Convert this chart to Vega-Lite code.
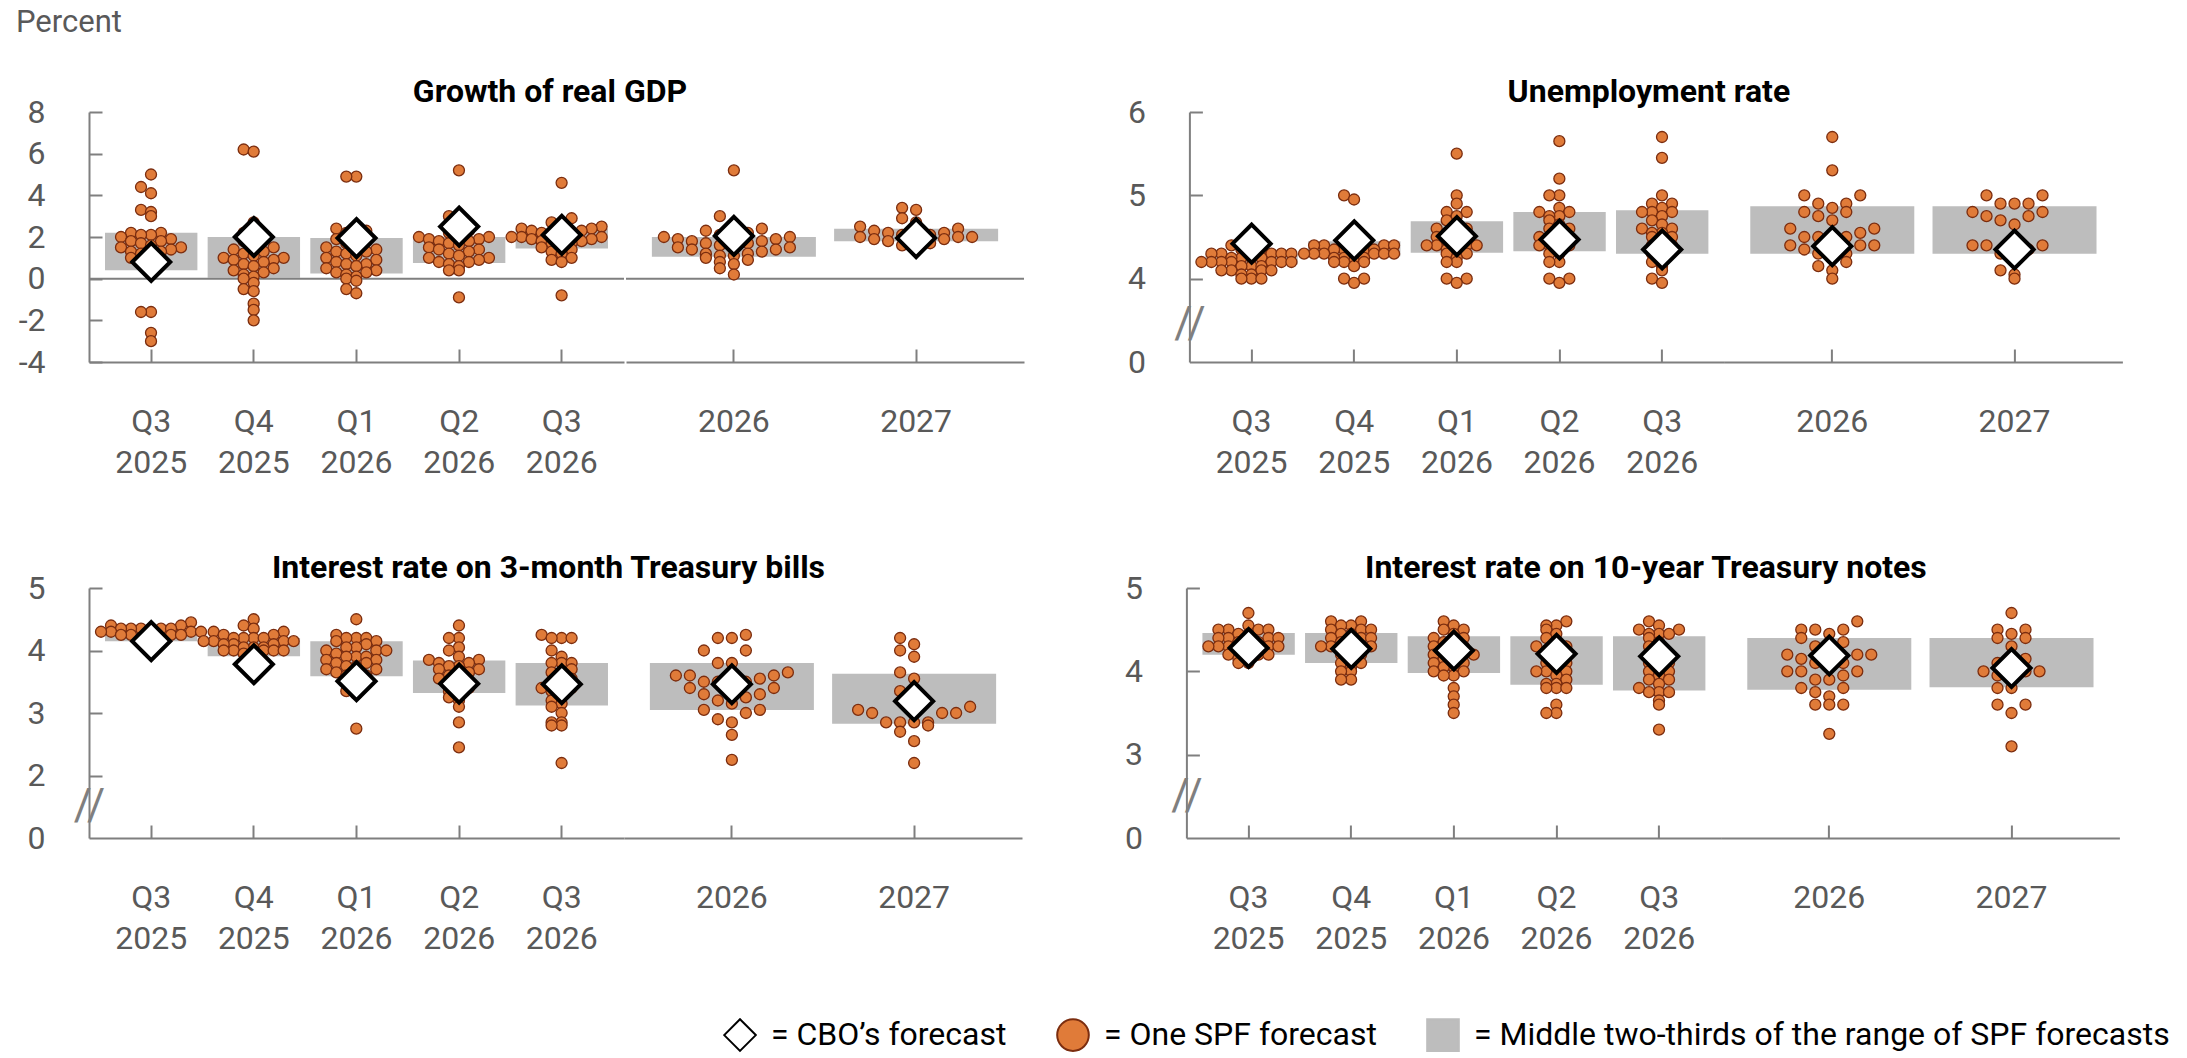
{
"$schema": "https://vega.github.io/schema/vega-lite/v6.json",
"padding": {"left": 9, "top": 7, "right": 5, "bottom": 5},
"title": {"text": "Percent", "anchor": "start", "fontSize": 31, "fontWeight": "normal", "color": "#595959", "offset": 37, "dx": 7},
"datasets": {
"s": [
{"k":"gdp","p":"Q3 2025","lo":0.4,"hi":2.2,"cbo":0.8},
{"k":"gdp","p":"Q4 2025","lo":0.05,"hi":2.0,"cbo":2.0},
{"k":"gdp","p":"Q1 2026","lo":0.25,"hi":1.95,"cbo":1.95},
{"k":"gdp","p":"Q2 2026","lo":0.75,"hi":2.0,"cbo":2.5},
{"k":"gdp","p":"Q3 2026","lo":1.45,"hi":2.4,"cbo":2.1},
{"k":"gdp","p":"2026","lo":1.05,"hi":2.0,"cbo":2.05},
{"k":"gdp","p":"2027","lo":1.8,"hi":2.4,"cbo":1.95},
{"k":"ur","p":"Q3 2025","lo":4.17,"hi":4.29,"cbo":4.42},
{"k":"ur","p":"Q4 2025","lo":4.27,"hi":4.45,"cbo":4.46},
{"k":"ur","p":"Q1 2026","lo":4.31,"hi":4.69,"cbo":4.51},
{"k":"ur","p":"Q2 2026","lo":4.33,"hi":4.8,"cbo":4.47},
{"k":"ur","p":"Q3 2026","lo":4.3,"hi":4.82,"cbo":4.35},
{"k":"ur","p":"2026","lo":4.3,"hi":4.87,"cbo":4.39},
{"k":"ur","p":"2027","lo":4.3,"hi":4.87,"cbo":4.35},
{"k":"tb","p":"Q3 2025","lo":4.15,"hi":4.33,"cbo":4.15},
{"k":"tb","p":"Q4 2025","lo":3.91,"hi":4.2,"cbo":3.78},
{"k":"tb","p":"Q1 2026","lo":3.59,"hi":4.15,"cbo":3.51},
{"k":"tb","p":"Q2 2026","lo":3.32,"hi":3.84,"cbo":3.47},
{"k":"tb","p":"Q3 2026","lo":3.12,"hi":3.8,"cbo":3.46},
{"k":"tb","p":"2026","lo":3.05,"hi":3.8,"cbo":3.46},
{"k":"tb","p":"2027","lo":2.83,"hi":3.63,"cbo":3.19},
{"k":"tn","p":"Q3 2025","lo":4.2,"hi":4.46,"cbo":4.28},
{"k":"tn","p":"Q4 2025","lo":4.1,"hi":4.46,"cbo":4.27},
{"k":"tn","p":"Q1 2026","lo":3.98,"hi":4.42,"cbo":4.25},
{"k":"tn","p":"Q2 2026","lo":3.84,"hi":4.42,"cbo":4.21},
{"k":"tn","p":"Q3 2026","lo":3.77,"hi":4.42,"cbo":4.18},
{"k":"tn","p":"2026","lo":3.78,"hi":4.4,"cbo":4.19},
{"k":"tn","p":"2027","lo":3.81,"hi":4.4,"cbo":4.04}
],
"gdp": [
{"p":"Q3 2025","v":5.0},{"p":"Q3 2025","v":4.4},{"p":"Q3 2025","v":4.1},{"p":"Q3 2025","v":3.3},{"p":"Q3 2025","v":3.2},{"p":"Q3 2025","v":3.0},{"p":"Q3 2025","v":2.2},{"p":"Q3 2025","v":2.2},{"p":"Q3 2025","v":2.1},{"p":"Q3 2025","v":2.1},{"p":"Q3 2025","v":2.0},{"p":"Q3 2025","v":1.9},{"p":"Q3 2025","v":1.8},{"p":"Q3 2025","v":1.8},{"p":"Q3 2025","v":1.7},{"p":"Q3 2025","v":1.6},{"p":"Q3 2025","v":1.5},{"p":"Q3 2025","v":1.5},{"p":"Q3 2025","v":1.4},{"p":"Q3 2025","v":1.3},{"p":"Q3 2025","v":1.3},{"p":"Q3 2025","v":1.2},{"p":"Q3 2025","v":1.1},{"p":"Q3 2025","v":1.0},{"p":"Q3 2025","v":0.9},{"p":"Q3 2025","v":0.8},{"p":"Q3 2025","v":0.6},{"p":"Q3 2025","v":0.3},{"p":"Q3 2025","v":-1.6},{"p":"Q3 2025","v":-1.6},{"p":"Q3 2025","v":-2.6},{"p":"Q3 2025","v":-3.0},
{"p":"Q4 2025","v":6.2},{"p":"Q4 2025","v":6.1},{"p":"Q4 2025","v":2.7},{"p":"Q4 2025","v":2.2},{"p":"Q4 2025","v":2.2},{"p":"Q4 2025","v":2.0},{"p":"Q4 2025","v":1.8},{"p":"Q4 2025","v":1.6},{"p":"Q4 2025","v":1.5},{"p":"Q4 2025","v":1.4},{"p":"Q4 2025","v":1.3},{"p":"Q4 2025","v":1.2},{"p":"Q4 2025","v":1.1},{"p":"Q4 2025","v":1.0},{"p":"Q4 2025","v":1.0},{"p":"Q4 2025","v":0.9},{"p":"Q4 2025","v":0.9},{"p":"Q4 2025","v":0.8},{"p":"Q4 2025","v":0.7},{"p":"Q4 2025","v":0.6},{"p":"Q4 2025","v":0.5},{"p":"Q4 2025","v":0.4},{"p":"Q4 2025","v":0.3},{"p":"Q4 2025","v":0.2},{"p":"Q4 2025","v":0.1},{"p":"Q4 2025","v":0.0},{"p":"Q4 2025","v":-0.2},{"p":"Q4 2025","v":-0.5},{"p":"Q4 2025","v":-0.6},{"p":"Q4 2025","v":-1.2},{"p":"Q4 2025","v":-1.5},{"p":"Q4 2025","v":-2.0},
{"p":"Q1 2026","v":4.9},{"p":"Q1 2026","v":4.9},{"p":"Q1 2026","v":2.4},{"p":"Q1 2026","v":2.3},{"p":"Q1 2026","v":2.2},{"p":"Q1 2026","v":2.1},{"p":"Q1 2026","v":1.9},{"p":"Q1 2026","v":1.8},{"p":"Q1 2026","v":1.7},{"p":"Q1 2026","v":1.6},{"p":"Q1 2026","v":1.5},{"p":"Q1 2026","v":1.4},{"p":"Q1 2026","v":1.3},{"p":"Q1 2026","v":1.3},{"p":"Q1 2026","v":1.2},{"p":"Q1 2026","v":1.1},{"p":"Q1 2026","v":1.0},{"p":"Q1 2026","v":0.9},{"p":"Q1 2026","v":0.8},{"p":"Q1 2026","v":0.7},{"p":"Q1 2026","v":0.7},{"p":"Q1 2026","v":0.6},{"p":"Q1 2026","v":0.5},{"p":"Q1 2026","v":0.4},{"p":"Q1 2026","v":0.3},{"p":"Q1 2026","v":0.3},{"p":"Q1 2026","v":0.2},{"p":"Q1 2026","v":0.1},{"p":"Q1 2026","v":0.0},{"p":"Q1 2026","v":-0.1},{"p":"Q1 2026","v":-0.5},{"p":"Q1 2026","v":-0.7},
{"p":"Q2 2026","v":5.2},{"p":"Q2 2026","v":3.0},{"p":"Q2 2026","v":2.8},{"p":"Q2 2026","v":2.3},{"p":"Q2 2026","v":2.2},{"p":"Q2 2026","v":2.1},{"p":"Q2 2026","v":2.0},{"p":"Q2 2026","v":2.0},{"p":"Q2 2026","v":1.9},{"p":"Q2 2026","v":1.9},{"p":"Q2 2026","v":1.8},{"p":"Q2 2026","v":1.8},{"p":"Q2 2026","v":1.7},{"p":"Q2 2026","v":1.6},{"p":"Q2 2026","v":1.5},{"p":"Q2 2026","v":1.4},{"p":"Q2 2026","v":1.4},{"p":"Q2 2026","v":1.3},{"p":"Q2 2026","v":1.2},{"p":"Q2 2026","v":1.1},{"p":"Q2 2026","v":1.0},{"p":"Q2 2026","v":1.0},{"p":"Q2 2026","v":0.9},{"p":"Q2 2026","v":0.8},{"p":"Q2 2026","v":0.8},{"p":"Q2 2026","v":0.7},{"p":"Q2 2026","v":0.6},{"p":"Q2 2026","v":0.4},{"p":"Q2 2026","v":0.4},{"p":"Q2 2026","v":-0.9},
{"p":"Q3 2026","v":4.6},{"p":"Q3 2026","v":2.9},{"p":"Q3 2026","v":2.7},{"p":"Q3 2026","v":2.6},{"p":"Q3 2026","v":2.5},{"p":"Q3 2026","v":2.4},{"p":"Q3 2026","v":2.4},{"p":"Q3 2026","v":2.3},{"p":"Q3 2026","v":2.3},{"p":"Q3 2026","v":2.2},{"p":"Q3 2026","v":2.2},{"p":"Q3 2026","v":2.1},{"p":"Q3 2026","v":2.1},{"p":"Q3 2026","v":2.0},{"p":"Q3 2026","v":2.0},{"p":"Q3 2026","v":2.0},{"p":"Q3 2026","v":1.9},{"p":"Q3 2026","v":1.9},{"p":"Q3 2026","v":1.8},{"p":"Q3 2026","v":1.8},{"p":"Q3 2026","v":1.7},{"p":"Q3 2026","v":1.7},{"p":"Q3 2026","v":1.6},{"p":"Q3 2026","v":1.5},{"p":"Q3 2026","v":1.4},{"p":"Q3 2026","v":1.3},{"p":"Q3 2026","v":1.2},{"p":"Q3 2026","v":1.0},{"p":"Q3 2026","v":0.9},{"p":"Q3 2026","v":0.8},{"p":"Q3 2026","v":-0.8},
{"p":"2026","v":5.2},{"p":"2026","v":3.0},{"p":"2026","v":2.6},{"p":"2026","v":2.4},{"p":"2026","v":2.3},{"p":"2026","v":2.2},{"p":"2026","v":2.1},{"p":"2026","v":2.1},{"p":"2026","v":2.0},{"p":"2026","v":2.0},{"p":"2026","v":1.9},{"p":"2026","v":1.9},{"p":"2026","v":1.8},{"p":"2026","v":1.8},{"p":"2026","v":1.7},{"p":"2026","v":1.7},{"p":"2026","v":1.6},{"p":"2026","v":1.6},{"p":"2026","v":1.5},{"p":"2026","v":1.5},{"p":"2026","v":1.4},{"p":"2026","v":1.4},{"p":"2026","v":1.3},{"p":"2026","v":1.2},{"p":"2026","v":1.2},{"p":"2026","v":1.1},{"p":"2026","v":1.1},{"p":"2026","v":1.0},{"p":"2026","v":0.9},{"p":"2026","v":0.8},{"p":"2026","v":0.7},{"p":"2026","v":0.5},{"p":"2026","v":0.2},
{"p":"2027","v":3.4},{"p":"2027","v":3.3},{"p":"2027","v":2.9},{"p":"2027","v":2.7},{"p":"2027","v":2.5},{"p":"2027","v":2.4},{"p":"2027","v":2.3},{"p":"2027","v":2.2},{"p":"2027","v":2.2},{"p":"2027","v":2.1},{"p":"2027","v":2.1},{"p":"2027","v":2.1},{"p":"2027","v":2.0},{"p":"2027","v":2.0},{"p":"2027","v":2.0},{"p":"2027","v":1.9},{"p":"2027","v":1.9},{"p":"2027","v":1.8},{"p":"2027","v":1.7},{"p":"2027","v":1.6},{"p":"2027","v":1.6},{"p":"2027","v":1.5}
],
"ur": [
{"p":"Q3 2025","v":4.4},{"p":"Q3 2025","v":4.35},{"p":"Q3 2025","v":4.35},{"p":"Q3 2025","v":4.35},{"p":"Q3 2025","v":4.3},{"p":"Q3 2025","v":4.3},{"p":"Q3 2025","v":4.3},{"p":"Q3 2025","v":4.3},{"p":"Q3 2025","v":4.3},{"p":"Q3 2025","v":4.25},{"p":"Q3 2025","v":4.25},{"p":"Q3 2025","v":4.25},{"p":"Q3 2025","v":4.25},{"p":"Q3 2025","v":4.2},{"p":"Q3 2025","v":4.2},{"p":"Q3 2025","v":4.2},{"p":"Q3 2025","v":4.2},{"p":"Q3 2025","v":4.2},{"p":"Q3 2025","v":4.2},{"p":"Q3 2025","v":4.2},{"p":"Q3 2025","v":4.15},{"p":"Q3 2025","v":4.15},{"p":"Q3 2025","v":4.15},{"p":"Q3 2025","v":4.1},{"p":"Q3 2025","v":4.1},{"p":"Q3 2025","v":4.1},{"p":"Q3 2025","v":4.1},{"p":"Q3 2025","v":4.05},{"p":"Q3 2025","v":4.05},{"p":"Q3 2025","v":4.0},{"p":"Q3 2025","v":4.0},{"p":"Q3 2025","v":4.0},
{"p":"Q4 2025","v":5.0},{"p":"Q4 2025","v":4.95},{"p":"Q4 2025","v":4.45},{"p":"Q4 2025","v":4.45},{"p":"Q4 2025","v":4.4},{"p":"Q4 2025","v":4.4},{"p":"Q4 2025","v":4.4},{"p":"Q4 2025","v":4.4},{"p":"Q4 2025","v":4.35},{"p":"Q4 2025","v":4.35},{"p":"Q4 2025","v":4.35},{"p":"Q4 2025","v":4.35},{"p":"Q4 2025","v":4.35},{"p":"Q4 2025","v":4.3},{"p":"Q4 2025","v":4.3},{"p":"Q4 2025","v":4.3},{"p":"Q4 2025","v":4.3},{"p":"Q4 2025","v":4.3},{"p":"Q4 2025","v":4.3},{"p":"Q4 2025","v":4.25},{"p":"Q4 2025","v":4.25},{"p":"Q4 2025","v":4.25},{"p":"Q4 2025","v":4.25},{"p":"Q4 2025","v":4.2},{"p":"Q4 2025","v":4.2},{"p":"Q4 2025","v":4.2},{"p":"Q4 2025","v":4.15},{"p":"Q4 2025","v":4.0},{"p":"Q4 2025","v":4.0},{"p":"Q4 2025","v":3.95},
{"p":"Q1 2026","v":5.5},{"p":"Q1 2026","v":5.0},{"p":"Q1 2026","v":4.9},{"p":"Q1 2026","v":4.8},{"p":"Q1 2026","v":4.8},{"p":"Q1 2026","v":4.75},{"p":"Q1 2026","v":4.7},{"p":"Q1 2026","v":4.65},{"p":"Q1 2026","v":4.6},{"p":"Q1 2026","v":4.6},{"p":"Q1 2026","v":4.55},{"p":"Q1 2026","v":4.55},{"p":"Q1 2026","v":4.5},{"p":"Q1 2026","v":4.5},{"p":"Q1 2026","v":4.45},{"p":"Q1 2026","v":4.45},{"p":"Q1 2026","v":4.4},{"p":"Q1 2026","v":4.4},{"p":"Q1 2026","v":4.4},{"p":"Q1 2026","v":4.4},{"p":"Q1 2026","v":4.35},{"p":"Q1 2026","v":4.35},{"p":"Q1 2026","v":4.3},{"p":"Q1 2026","v":4.3},{"p":"Q1 2026","v":4.25},{"p":"Q1 2026","v":4.2},{"p":"Q1 2026","v":4.2},{"p":"Q1 2026","v":4.0},{"p":"Q1 2026","v":4.0},{"p":"Q1 2026","v":3.95},
{"p":"Q2 2026","v":5.65},{"p":"Q2 2026","v":5.2},{"p":"Q2 2026","v":5.0},{"p":"Q2 2026","v":5.0},{"p":"Q2 2026","v":4.85},{"p":"Q2 2026","v":4.8},{"p":"Q2 2026","v":4.8},{"p":"Q2 2026","v":4.75},{"p":"Q2 2026","v":4.75},{"p":"Q2 2026","v":4.7},{"p":"Q2 2026","v":4.65},{"p":"Q2 2026","v":4.6},{"p":"Q2 2026","v":4.6},{"p":"Q2 2026","v":4.55},{"p":"Q2 2026","v":4.5},{"p":"Q2 2026","v":4.5},{"p":"Q2 2026","v":4.45},{"p":"Q2 2026","v":4.45},{"p":"Q2 2026","v":4.4},{"p":"Q2 2026","v":4.4},{"p":"Q2 2026","v":4.4},{"p":"Q2 2026","v":4.35},{"p":"Q2 2026","v":4.3},{"p":"Q2 2026","v":4.3},{"p":"Q2 2026","v":4.2},{"p":"Q2 2026","v":4.2},{"p":"Q2 2026","v":4.0},{"p":"Q2 2026","v":4.0},{"p":"Q2 2026","v":3.95},
{"p":"Q3 2026","v":5.7},{"p":"Q3 2026","v":5.45},{"p":"Q3 2026","v":5.0},{"p":"Q3 2026","v":4.9},{"p":"Q3 2026","v":4.9},{"p":"Q3 2026","v":4.85},{"p":"Q3 2026","v":4.8},{"p":"Q3 2026","v":4.8},{"p":"Q3 2026","v":4.8},{"p":"Q3 2026","v":4.75},{"p":"Q3 2026","v":4.7},{"p":"Q3 2026","v":4.65},{"p":"Q3 2026","v":4.6},{"p":"Q3 2026","v":4.6},{"p":"Q3 2026","v":4.55},{"p":"Q3 2026","v":4.55},{"p":"Q3 2026","v":4.5},{"p":"Q3 2026","v":4.5},{"p":"Q3 2026","v":4.45},{"p":"Q3 2026","v":4.4},{"p":"Q3 2026","v":4.4},{"p":"Q3 2026","v":4.35},{"p":"Q3 2026","v":4.3},{"p":"Q3 2026","v":4.25},{"p":"Q3 2026","v":4.2},{"p":"Q3 2026","v":4.15},{"p":"Q3 2026","v":4.1},{"p":"Q3 2026","v":4.0},{"p":"Q3 2026","v":3.95},
{"p":"2026","v":5.7},{"p":"2026","v":5.3},{"p":"2026","v":5.0},{"p":"2026","v":5.0},{"p":"2026","v":4.9},{"p":"2026","v":4.9},{"p":"2026","v":4.85},{"p":"2026","v":4.8},{"p":"2026","v":4.8},{"p":"2026","v":4.75},{"p":"2026","v":4.7},{"p":"2026","v":4.6},{"p":"2026","v":4.6},{"p":"2026","v":4.55},{"p":"2026","v":4.5},{"p":"2026","v":4.5},{"p":"2026","v":4.5},{"p":"2026","v":4.45},{"p":"2026","v":4.4},{"p":"2026","v":4.4},{"p":"2026","v":4.4},{"p":"2026","v":4.35},{"p":"2026","v":4.3},{"p":"2026","v":4.3},{"p":"2026","v":4.25},{"p":"2026","v":4.2},{"p":"2026","v":4.15},{"p":"2026","v":4.1},{"p":"2026","v":4.0},
{"p":"2027","v":5.0},{"p":"2027","v":5.0},{"p":"2027","v":4.9},{"p":"2027","v":4.9},{"p":"2027","v":4.9},{"p":"2027","v":4.8},{"p":"2027","v":4.8},{"p":"2027","v":4.75},{"p":"2027","v":4.75},{"p":"2027","v":4.7},{"p":"2027","v":4.65},{"p":"2027","v":4.5},{"p":"2027","v":4.4},{"p":"2027","v":4.4},{"p":"2027","v":4.4},{"p":"2027","v":4.35},{"p":"2027","v":4.3},{"p":"2027","v":4.3},{"p":"2027","v":4.1},{"p":"2027","v":4.05},{"p":"2027","v":4.0}
],
"tb": [
{"p":"Q3 2025","v":4.45},{"p":"Q3 2025","v":4.4},{"p":"Q3 2025","v":4.4},{"p":"Q3 2025","v":4.35},{"p":"Q3 2025","v":4.35},{"p":"Q3 2025","v":4.35},{"p":"Q3 2025","v":4.35},{"p":"Q3 2025","v":4.35},{"p":"Q3 2025","v":4.35},{"p":"Q3 2025","v":4.3},{"p":"Q3 2025","v":4.3},{"p":"Q3 2025","v":4.3},{"p":"Q3 2025","v":4.3},{"p":"Q3 2025","v":4.25},{"p":"Q3 2025","v":4.25},{"p":"Q3 2025","v":4.25},{"p":"Q3 2025","v":4.25},{"p":"Q3 2025","v":4.2},{"p":"Q3 2025","v":4.2},{"p":"Q3 2025","v":4.2},
{"p":"Q4 2025","v":4.5},{"p":"Q4 2025","v":4.4},{"p":"Q4 2025","v":4.35},{"p":"Q4 2025","v":4.3},{"p":"Q4 2025","v":4.3},{"p":"Q4 2025","v":4.25},{"p":"Q4 2025","v":4.25},{"p":"Q4 2025","v":4.2},{"p":"Q4 2025","v":4.2},{"p":"Q4 2025","v":4.2},{"p":"Q4 2025","v":4.2},{"p":"Q4 2025","v":4.15},{"p":"Q4 2025","v":4.15},{"p":"Q4 2025","v":4.15},{"p":"Q4 2025","v":4.15},{"p":"Q4 2025","v":4.1},{"p":"Q4 2025","v":4.1},{"p":"Q4 2025","v":4.1},{"p":"Q4 2025","v":4.05},{"p":"Q4 2025","v":4.05},{"p":"Q4 2025","v":4.05},{"p":"Q4 2025","v":4.0},{"p":"Q4 2025","v":4.0},{"p":"Q4 2025","v":4.0},{"p":"Q4 2025","v":4.0},{"p":"Q4 2025","v":4.0},{"p":"Q4 2025","v":3.95},{"p":"Q4 2025","v":3.9},
{"p":"Q1 2026","v":4.5},{"p":"Q1 2026","v":4.25},{"p":"Q1 2026","v":4.2},{"p":"Q1 2026","v":4.2},{"p":"Q1 2026","v":4.2},{"p":"Q1 2026","v":4.15},{"p":"Q1 2026","v":4.15},{"p":"Q1 2026","v":4.1},{"p":"Q1 2026","v":4.05},{"p":"Q1 2026","v":4.05},{"p":"Q1 2026","v":4.0},{"p":"Q1 2026","v":4.0},{"p":"Q1 2026","v":4.0},{"p":"Q1 2026","v":3.95},{"p":"Q1 2026","v":3.9},{"p":"Q1 2026","v":3.9},{"p":"Q1 2026","v":3.9},{"p":"Q1 2026","v":3.85},{"p":"Q1 2026","v":3.85},{"p":"Q1 2026","v":3.8},{"p":"Q1 2026","v":3.8},{"p":"Q1 2026","v":3.75},{"p":"Q1 2026","v":3.75},{"p":"Q1 2026","v":3.7},{"p":"Q1 2026","v":3.7},{"p":"Q1 2026","v":3.65},{"p":"Q1 2026","v":3.6},{"p":"Q1 2026","v":3.6},{"p":"Q1 2026","v":3.6},{"p":"Q1 2026","v":3.55},{"p":"Q1 2026","v":3.5},{"p":"Q1 2026","v":3.45},{"p":"Q1 2026","v":3.35},{"p":"Q1 2026","v":3.3},{"p":"Q1 2026","v":2.75},
{"p":"Q2 2026","v":4.4},{"p":"Q2 2026","v":4.2},{"p":"Q2 2026","v":4.2},{"p":"Q2 2026","v":4.05},{"p":"Q2 2026","v":4.0},{"p":"Q2 2026","v":3.9},{"p":"Q2 2026","v":3.85},{"p":"Q2 2026","v":3.85},{"p":"Q2 2026","v":3.8},{"p":"Q2 2026","v":3.8},{"p":"Q2 2026","v":3.75},{"p":"Q2 2026","v":3.75},{"p":"Q2 2026","v":3.7},{"p":"Q2 2026","v":3.7},{"p":"Q2 2026","v":3.65},{"p":"Q2 2026","v":3.6},{"p":"Q2 2026","v":3.6},{"p":"Q2 2026","v":3.55},{"p":"Q2 2026","v":3.5},{"p":"Q2 2026","v":3.5},{"p":"Q2 2026","v":3.45},{"p":"Q2 2026","v":3.4},{"p":"Q2 2026","v":3.35},{"p":"Q2 2026","v":3.3},{"p":"Q2 2026","v":3.25},{"p":"Q2 2026","v":3.2},{"p":"Q2 2026","v":3.1},{"p":"Q2 2026","v":2.85},{"p":"Q2 2026","v":2.45},
{"p":"Q3 2026","v":4.25},{"p":"Q3 2026","v":4.2},{"p":"Q3 2026","v":4.2},{"p":"Q3 2026","v":4.2},{"p":"Q3 2026","v":4.0},{"p":"Q3 2026","v":3.9},{"p":"Q3 2026","v":3.8},{"p":"Q3 2026","v":3.8},{"p":"Q3 2026","v":3.8},{"p":"Q3 2026","v":3.7},{"p":"Q3 2026","v":3.65},{"p":"Q3 2026","v":3.6},{"p":"Q3 2026","v":3.55},{"p":"Q3 2026","v":3.5},{"p":"Q3 2026","v":3.45},{"p":"Q3 2026","v":3.4},{"p":"Q3 2026","v":3.4},{"p":"Q3 2026","v":3.35},{"p":"Q3 2026","v":3.3},{"p":"Q3 2026","v":3.2},{"p":"Q3 2026","v":3.15},{"p":"Q3 2026","v":3.1},{"p":"Q3 2026","v":3.0},{"p":"Q3 2026","v":2.85},{"p":"Q3 2026","v":2.85},{"p":"Q3 2026","v":2.8},{"p":"Q3 2026","v":2.8},{"p":"Q3 2026","v":2.2},
{"p":"2026","v":4.25},{"p":"2026","v":4.2},{"p":"2026","v":4.2},{"p":"2026","v":4.0},{"p":"2026","v":4.0},{"p":"2026","v":3.8},{"p":"2026","v":3.8},{"p":"2026","v":3.65},{"p":"2026","v":3.6},{"p":"2026","v":3.6},{"p":"2026","v":3.6},{"p":"2026","v":3.55},{"p":"2026","v":3.5},{"p":"2026","v":3.5},{"p":"2026","v":3.5},{"p":"2026","v":3.45},{"p":"2026","v":3.4},{"p":"2026","v":3.4},{"p":"2026","v":3.3},{"p":"2026","v":3.3},{"p":"2026","v":3.25},{"p":"2026","v":3.2},{"p":"2026","v":3.15},{"p":"2026","v":3.05},{"p":"2026","v":3.05},{"p":"2026","v":3.0},{"p":"2026","v":2.9},{"p":"2026","v":2.85},{"p":"2026","v":2.65},{"p":"2026","v":2.25},
{"p":"2027","v":4.2},{"p":"2027","v":4.1},{"p":"2027","v":4.0},{"p":"2027","v":3.9},{"p":"2027","v":3.65},{"p":"2027","v":3.55},{"p":"2027","v":3.35},{"p":"2027","v":3.2},{"p":"2027","v":3.1},{"p":"2027","v":3.05},{"p":"2027","v":3.0},{"p":"2027","v":3.0},{"p":"2027","v":3.0},{"p":"2027","v":2.85},{"p":"2027","v":2.85},{"p":"2027","v":2.85},{"p":"2027","v":2.85},{"p":"2027","v":2.8},{"p":"2027","v":2.7},{"p":"2027","v":2.55},{"p":"2027","v":2.2}
],
"tn": [
{"p":"Q3 2025","v":4.7},{"p":"Q3 2025","v":4.55},{"p":"Q3 2025","v":4.5},{"p":"Q3 2025","v":4.5},{"p":"Q3 2025","v":4.5},{"p":"Q3 2025","v":4.5},{"p":"Q3 2025","v":4.45},{"p":"Q3 2025","v":4.45},{"p":"Q3 2025","v":4.4},{"p":"Q3 2025","v":4.4},{"p":"Q3 2025","v":4.4},{"p":"Q3 2025","v":4.4},{"p":"Q3 2025","v":4.35},{"p":"Q3 2025","v":4.35},{"p":"Q3 2025","v":4.35},{"p":"Q3 2025","v":4.3},{"p":"Q3 2025","v":4.3},{"p":"Q3 2025","v":4.3},{"p":"Q3 2025","v":4.3},{"p":"Q3 2025","v":4.3},{"p":"Q3 2025","v":4.25},{"p":"Q3 2025","v":4.25},{"p":"Q3 2025","v":4.25},{"p":"Q3 2025","v":4.2},{"p":"Q3 2025","v":4.2},{"p":"Q3 2025","v":4.2},{"p":"Q3 2025","v":4.15},{"p":"Q3 2025","v":4.15},{"p":"Q3 2025","v":4.1},{"p":"Q3 2025","v":4.1},
{"p":"Q4 2025","v":4.6},{"p":"Q4 2025","v":4.6},{"p":"Q4 2025","v":4.55},{"p":"Q4 2025","v":4.55},{"p":"Q4 2025","v":4.5},{"p":"Q4 2025","v":4.5},{"p":"Q4 2025","v":4.5},{"p":"Q4 2025","v":4.45},{"p":"Q4 2025","v":4.45},{"p":"Q4 2025","v":4.4},{"p":"Q4 2025","v":4.4},{"p":"Q4 2025","v":4.4},{"p":"Q4 2025","v":4.35},{"p":"Q4 2025","v":4.35},{"p":"Q4 2025","v":4.3},{"p":"Q4 2025","v":4.3},{"p":"Q4 2025","v":4.3},{"p":"Q4 2025","v":4.3},{"p":"Q4 2025","v":4.25},{"p":"Q4 2025","v":4.25},{"p":"Q4 2025","v":4.2},{"p":"Q4 2025","v":4.2},{"p":"Q4 2025","v":4.15},{"p":"Q4 2025","v":4.1},{"p":"Q4 2025","v":4.1},{"p":"Q4 2025","v":4.05},{"p":"Q4 2025","v":4.0},{"p":"Q4 2025","v":4.0},{"p":"Q4 2025","v":3.9},{"p":"Q4 2025","v":3.9},
{"p":"Q1 2026","v":4.6},{"p":"Q1 2026","v":4.55},{"p":"Q1 2026","v":4.5},{"p":"Q1 2026","v":4.5},{"p":"Q1 2026","v":4.45},{"p":"Q1 2026","v":4.4},{"p":"Q1 2026","v":4.4},{"p":"Q1 2026","v":4.35},{"p":"Q1 2026","v":4.35},{"p":"Q1 2026","v":4.3},{"p":"Q1 2026","v":4.3},{"p":"Q1 2026","v":4.25},{"p":"Q1 2026","v":4.25},{"p":"Q1 2026","v":4.2},{"p":"Q1 2026","v":4.2},{"p":"Q1 2026","v":4.2},{"p":"Q1 2026","v":4.15},{"p":"Q1 2026","v":4.15},{"p":"Q1 2026","v":4.1},{"p":"Q1 2026","v":4.1},{"p":"Q1 2026","v":4.05},{"p":"Q1 2026","v":4.05},{"p":"Q1 2026","v":4.0},{"p":"Q1 2026","v":4.0},{"p":"Q1 2026","v":3.95},{"p":"Q1 2026","v":3.95},{"p":"Q1 2026","v":3.8},{"p":"Q1 2026","v":3.7},{"p":"Q1 2026","v":3.6},{"p":"Q1 2026","v":3.5},
{"p":"Q2 2026","v":4.6},{"p":"Q2 2026","v":4.55},{"p":"Q2 2026","v":4.55},{"p":"Q2 2026","v":4.5},{"p":"Q2 2026","v":4.45},{"p":"Q2 2026","v":4.4},{"p":"Q2 2026","v":4.35},{"p":"Q2 2026","v":4.3},{"p":"Q2 2026","v":4.3},{"p":"Q2 2026","v":4.25},{"p":"Q2 2026","v":4.25},{"p":"Q2 2026","v":4.2},{"p":"Q2 2026","v":4.2},{"p":"Q2 2026","v":4.15},{"p":"Q2 2026","v":4.1},{"p":"Q2 2026","v":4.1},{"p":"Q2 2026","v":4.05},{"p":"Q2 2026","v":4.0},{"p":"Q2 2026","v":4.0},{"p":"Q2 2026","v":4.0},{"p":"Q2 2026","v":3.95},{"p":"Q2 2026","v":3.9},{"p":"Q2 2026","v":3.85},{"p":"Q2 2026","v":3.85},{"p":"Q2 2026","v":3.8},{"p":"Q2 2026","v":3.8},{"p":"Q2 2026","v":3.8},{"p":"Q2 2026","v":3.6},{"p":"Q2 2026","v":3.5},{"p":"Q2 2026","v":3.5},
{"p":"Q3 2026","v":4.6},{"p":"Q3 2026","v":4.55},{"p":"Q3 2026","v":4.5},{"p":"Q3 2026","v":4.5},{"p":"Q3 2026","v":4.45},{"p":"Q3 2026","v":4.45},{"p":"Q3 2026","v":4.45},{"p":"Q3 2026","v":4.4},{"p":"Q3 2026","v":4.35},{"p":"Q3 2026","v":4.3},{"p":"Q3 2026","v":4.25},{"p":"Q3 2026","v":4.2},{"p":"Q3 2026","v":4.15},{"p":"Q3 2026","v":4.1},{"p":"Q3 2026","v":4.1},{"p":"Q3 2026","v":4.05},{"p":"Q3 2026","v":4.0},{"p":"Q3 2026","v":4.0},{"p":"Q3 2026","v":3.95},{"p":"Q3 2026","v":3.9},{"p":"Q3 2026","v":3.9},{"p":"Q3 2026","v":3.85},{"p":"Q3 2026","v":3.8},{"p":"Q3 2026","v":3.75},{"p":"Q3 2026","v":3.75},{"p":"Q3 2026","v":3.75},{"p":"Q3 2026","v":3.65},{"p":"Q3 2026","v":3.6},{"p":"Q3 2026","v":3.3},
{"p":"2026","v":4.6},{"p":"2026","v":4.5},{"p":"2026","v":4.5},{"p":"2026","v":4.5},{"p":"2026","v":4.45},{"p":"2026","v":4.4},{"p":"2026","v":4.35},{"p":"2026","v":4.3},{"p":"2026","v":4.25},{"p":"2026","v":4.2},{"p":"2026","v":4.2},{"p":"2026","v":4.2},{"p":"2026","v":4.15},{"p":"2026","v":4.1},{"p":"2026","v":4.1},{"p":"2026","v":4.05},{"p":"2026","v":4.0},{"p":"2026","v":4.0},{"p":"2026","v":4.0},{"p":"2026","v":3.95},{"p":"2026","v":3.9},{"p":"2026","v":3.9},{"p":"2026","v":3.8},{"p":"2026","v":3.8},{"p":"2026","v":3.75},{"p":"2026","v":3.7},{"p":"2026","v":3.6},{"p":"2026","v":3.6},{"p":"2026","v":3.6},{"p":"2026","v":3.25},
{"p":"2027","v":4.7},{"p":"2027","v":4.5},{"p":"2027","v":4.5},{"p":"2027","v":4.45},{"p":"2027","v":4.4},{"p":"2027","v":4.4},{"p":"2027","v":4.3},{"p":"2027","v":4.15},{"p":"2027","v":4.1},{"p":"2027","v":4.05},{"p":"2027","v":4.0},{"p":"2027","v":4.0},{"p":"2027","v":4.0},{"p":"2027","v":3.95},{"p":"2027","v":3.9},{"p":"2027","v":3.8},{"p":"2027","v":3.8},{"p":"2027","v":3.6},{"p":"2027","v":3.6},{"p":"2027","v":3.5},{"p":"2027","v":3.1}
]
},
"spacing": 74,
"vconcat": [
{"hconcat": [
 {"title": {"text": "Growth of real GDP", "anchor": "middle", "offset": -13, "dx": 33},
  "spacing": 0,
  "hconcat": [
   {"width": 535, "height": 250, "resolve": {"scale": {"xOffset": "independent"}}, "layer": [
     {"data": {"name": "s"}, "transform": [{"filter": {"field": "k", "equal": "gdp"}}, {"filter": {"field": "p", "oneOf": ["Q3 2025","Q4 2025","Q1 2026","Q2 2026","Q3 2026"]}}],
      "mark": {"type": "bar", "fill": "#bdbdbd"},
      "encoding": {"x": {"field": "p", "type": "nominal", "scale": {"type": "band", "domain": ["Q3 2025","Q4 2025","Q1 2026","Q2 2026","Q3 2026"], "paddingInner": 0.1, "paddingOuter": 0.156}, "axis": {"title": null, "labelExpr": "split(datum.label, ' ')"}},
       "y": {"field": "lo", "type": "quantitative", "scale": {"domain": [-4, 8], "nice": false, "zero": false}, "axis": {"title": null, "values": [-4, -2, 0, 2, 4, 6, 8], "labelExpr": "'' + datum.value"}},
       "y2": {"field": "hi"}}},
     {"data": {"values": [{}]}, "mark": {"type": "rule", "color": "#7f7f7f", "strokeWidth": 2}, "encoding": {"y": {"datum": 0}}},
     {"data": {"name": "gdp"}, "transform": [{"filter": {"field": "p", "oneOf": ["Q3 2025","Q4 2025","Q1 2026","Q2 2026","Q3 2026"]}}, {"bin": {"step": 0.5, "anchor": 0.05}, "field": "v", "as": "b"}, {"window": [{"op": "row_number", "as": "r"}], "groupby": ["p", "b"], "sort": [{"field": "v", "order": "ascending"}]}],
      "mark": {"type": "point", "shape": "circle", "filled": true, "fill": "#e07b39", "stroke": "#7b2d0f", "strokeWidth": 1.3, "size": 121, "opacity": 1},
      "encoding": {"x": {"field": "p", "type": "nominal"}, "xOffset": {"field": "r", "type": "ordinal", "scale": {"domain": [14,12,10,8,6,4,2,1,3,5,7,9,11,13,15], "range": [-29, 121]}}, "y": {"field": "v", "type": "quantitative"}}},
     {"data": {"name": "s"}, "transform": [{"filter": {"field": "k", "equal": "gdp"}}, {"filter": {"field": "p", "oneOf": ["Q3 2025","Q4 2025","Q1 2026","Q2 2026","Q3 2026"]}}],
      "mark": {"type": "point", "shape": "diamond", "filled": true, "fill": "#ffffff", "stroke": "#000000", "strokeWidth": 4, "size": 1450, "opacity": 1},
      "encoding": {"x": {"field": "p", "type": "nominal"}, "y": {"field": "cbo", "type": "quantitative"}}},
     {"data": {"values": [{"s": "= CBO’s forecast"}, {"s": "= One SPF forecast"}, {"s": "= Middle two-thirds of the range of SPF forecasts"}]}, "transform": [{"filter": "false"}],
      "mark": {"type": "point", "filled": true, "opacity": 1},
      "encoding": {
       "fill": {"field": "s", "type": "nominal", "scale": {"domain": ["= CBO’s forecast", "= One SPF forecast", "= Middle two-thirds of the range of SPF forecasts"], "range": ["#ffffff", "#e07b39", "#bdbdbd"]}, "legend": {"title": null}},
       "stroke": {"field": "s", "type": "nominal", "scale": {"domain": ["= CBO’s forecast", "= One SPF forecast", "= Middle two-thirds of the range of SPF forecasts"], "range": ["#000000", "#7b2d0f", "#bdbdbd"]}, "legend": {"title": null}},
       "shape": {"field": "s", "type": "nominal", "scale": {"domain": ["= CBO’s forecast", "= One SPF forecast", "= Middle two-thirds of the range of SPF forecasts"], "range": ["diamond", "circle", "square"]}, "legend": {"title": null}}}}
   ]},
   {"width": 398, "height": 250, "resolve": {"scale": {"xOffset": "independent"}}, "layer": [
     {"data": {"name": "s"}, "transform": [{"filter": {"field": "k", "equal": "gdp"}}, {"filter": {"field": "p", "oneOf": ["2026","2027"]}}],
      "mark": {"type": "bar", "fill": "#bdbdbd"},
      "encoding": {"x": {"field": "p", "type": "nominal", "scale": {"type": "band", "domain": ["2026","2027"], "paddingInner": 0.1, "paddingOuter": 0.142}, "axis": {"title": null}},
       "y": {"field": "lo", "type": "quantitative", "scale": {"domain": [-4, 8], "nice": false, "zero": false}, "axis": null},
       "y2": {"field": "hi"}}},
     {"data": {"values": [{}]}, "mark": {"type": "rule", "color": "#7f7f7f", "strokeWidth": 2}, "encoding": {"y": {"datum": 0, "axis": null}}},
     {"data": {"name": "gdp"}, "transform": [{"filter": {"field": "p", "oneOf": ["2026","2027"]}}, {"bin": {"step": 0.5, "anchor": 0.05}, "field": "v", "as": "b"}, {"window": [{"op": "row_number", "as": "r"}], "groupby": ["p", "b"], "sort": [{"field": "v", "order": "ascending"}]}],
      "mark": {"type": "point", "shape": "circle", "filled": true, "fill": "#e07b39", "stroke": "#7b2d0f", "strokeWidth": 1.3, "size": 121, "opacity": 1},
      "encoding": {"x": {"field": "p", "type": "nominal"}, "xOffset": {"field": "r", "type": "ordinal", "scale": {"domain": [14,12,10,8,6,4,2,1,3,5,7,9,11,13,15], "range": [-23, 187]}}, "y": {"field": "v", "type": "quantitative", "axis": null}}},
     {"data": {"name": "s"}, "transform": [{"filter": {"field": "k", "equal": "gdp"}}, {"filter": {"field": "p", "oneOf": ["2026","2027"]}}],
      "mark": {"type": "point", "shape": "diamond", "filled": true, "fill": "#ffffff", "stroke": "#000000", "strokeWidth": 4, "size": 1450, "opacity": 1},
      "encoding": {"x": {"field": "p", "type": "nominal"}, "y": {"field": "cbo", "type": "quantitative", "axis": null}}}
   ]}
  ]},
 {"title": {"text": "Unemployment rate", "anchor": "middle", "offset": -13, "dx": 33},
  "spacing": 0,
  "hconcat": [
   {"width": 535, "height": 250, "resolve": {"scale": {"xOffset": "independent"}}, "layer": [
     {"data": {"name": "s"}, "transform": [{"filter": {"field": "k", "equal": "ur"}}, {"filter": {"field": "p", "oneOf": ["Q3 2025","Q4 2025","Q1 2026","Q2 2026","Q3 2026"]}}],
      "mark": {"type": "bar", "fill": "#bdbdbd"},
      "encoding": {"x": {"field": "p", "type": "nominal", "scale": {"type": "band", "domain": ["Q3 2025","Q4 2025","Q1 2026","Q2 2026","Q3 2026"], "paddingInner": 0.1, "paddingOuter": 0.156}, "axis": {"title": null, "labelExpr": "split(datum.label, ' ')"}},
       "y": {"field": "lo", "type": "quantitative", "scale": {"domain": [3, 6], "nice": false, "zero": false}, "axis": {"title": null, "values": [3, 3.45, 4, 5, 6], "labelExpr": "datum.value == 3 ? '0' : datum.value == 3.45 ? '//' : '' + datum.value", "tickColor": {"condition": {"test": "datum.value < 3.9", "value": "transparent"}, "value": "#7f7f7f"}, "labelPadding": {"condition": {"test": "datum.value == 3.45", "value": 13}, "value": 57}, "labelAlign": {"condition": {"test": "datum.value == 3.45", "value": "center"}, "value": "right"}, "labelFontSize": {"condition": {"test": "datum.value == 3.45", "value": 44}, "value": 32}, "labelColor": {"condition": {"test": "datum.value == 3.45", "value": "#7f7f7f"}, "value": "#595959"}}},
       "y2": {"field": "hi"}}},
     {"data": {"name": "ur"}, "transform": [{"filter": {"field": "p", "oneOf": ["Q3 2025","Q4 2025","Q1 2026","Q2 2026","Q3 2026"]}}, {"bin": {"step": 0.1, "anchor": 0.025}, "field": "v", "as": "b"}, {"window": [{"op": "row_number", "as": "r"}], "groupby": ["p", "b"], "sort": [{"field": "v", "order": "ascending"}]}],
      "mark": {"type": "point", "shape": "circle", "filled": true, "fill": "#e07b39", "stroke": "#7b2d0f", "strokeWidth": 1.3, "size": 121, "opacity": 1},
      "encoding": {"x": {"field": "p", "type": "nominal"}, "xOffset": {"field": "r", "type": "ordinal", "scale": {"domain": [14,12,10,8,6,4,2,1,3,5,7,9,11,13,15], "range": [-29, 121]}}, "y": {"field": "v", "type": "quantitative"}}},
     {"data": {"name": "s"}, "transform": [{"filter": {"field": "k", "equal": "ur"}}, {"filter": {"field": "p", "oneOf": ["Q3 2025","Q4 2025","Q1 2026","Q2 2026","Q3 2026"]}}],
      "mark": {"type": "point", "shape": "diamond", "filled": true, "fill": "#ffffff", "stroke": "#000000", "strokeWidth": 4, "size": 1450, "opacity": 1},
      "encoding": {"x": {"field": "p", "type": "nominal"}, "y": {"field": "cbo", "type": "quantitative"}}}
   ]},
   {"width": 398, "height": 250, "resolve": {"scale": {"xOffset": "independent"}}, "layer": [
     {"data": {"name": "s"}, "transform": [{"filter": {"field": "k", "equal": "ur"}}, {"filter": {"field": "p", "oneOf": ["2026","2027"]}}],
      "mark": {"type": "bar", "fill": "#bdbdbd"},
      "encoding": {"x": {"field": "p", "type": "nominal", "scale": {"type": "band", "domain": ["2026","2027"], "paddingInner": 0.1, "paddingOuter": 0.142}, "axis": {"title": null}},
       "y": {"field": "lo", "type": "quantitative", "scale": {"domain": [3, 6], "nice": false, "zero": false}, "axis": null},
       "y2": {"field": "hi"}}},
     {"data": {"name": "ur"}, "transform": [{"filter": {"field": "p", "oneOf": ["2026","2027"]}}, {"bin": {"step": 0.2, "anchor": 0.025}, "field": "v", "as": "b"}, {"window": [{"op": "row_number", "as": "r"}], "groupby": ["p", "b"], "sort": [{"field": "v", "order": "ascending"}]}],
      "mark": {"type": "point", "shape": "circle", "filled": true, "fill": "#e07b39", "stroke": "#7b2d0f", "strokeWidth": 1.3, "size": 121, "opacity": 1},
      "encoding": {"x": {"field": "p", "type": "nominal"}, "xOffset": {"field": "r", "type": "ordinal", "scale": {"domain": [14,12,10,8,6,4,2,1,3,5,7,9,11,13,15], "range": [-23, 187]}}, "y": {"field": "v", "type": "quantitative", "axis": null}}},
     {"data": {"name": "s"}, "transform": [{"filter": {"field": "k", "equal": "ur"}}, {"filter": {"field": "p", "oneOf": ["2026","2027"]}}],
      "mark": {"type": "point", "shape": "diamond", "filled": true, "fill": "#ffffff", "stroke": "#000000", "strokeWidth": 4, "size": 1450, "opacity": 1},
      "encoding": {"x": {"field": "p", "type": "nominal"}, "y": {"field": "cbo", "type": "quantitative", "axis": null}}}
   ]}
  ]}
], "spacing": 84.4},
{"hconcat": [
 {"title": {"text": "Interest rate on 3-month Treasury bills", "anchor": "middle", "offset": -13, "dx": 33},
  "spacing": 0,
  "hconcat": [
   {"width": 535, "height": 250, "resolve": {"scale": {"xOffset": "independent"}}, "layer": [
     {"data": {"name": "s"}, "transform": [{"filter": {"field": "k", "equal": "tb"}}, {"filter": {"field": "p", "oneOf": ["Q3 2025","Q4 2025","Q1 2026","Q2 2026","Q3 2026"]}}],
      "mark": {"type": "bar", "fill": "#bdbdbd"},
      "encoding": {"x": {"field": "p", "type": "nominal", "scale": {"type": "band", "domain": ["Q3 2025","Q4 2025","Q1 2026","Q2 2026","Q3 2026"], "paddingInner": 0.1, "paddingOuter": 0.156}, "axis": {"title": null, "labelExpr": "split(datum.label, ' ')"}},
       "y": {"field": "lo", "type": "quantitative", "scale": {"domain": [1, 5], "nice": false, "zero": false}, "axis": {"title": null, "values": [1, 1.5, 2, 3, 4, 5], "labelExpr": "datum.value == 1 ? '0' : datum.value == 1.5 ? '//' : '' + datum.value", "tickColor": {"condition": {"test": "datum.value < 1.9", "value": "transparent"}, "value": "#7f7f7f"}, "labelPadding": {"condition": {"test": "datum.value == 1.5", "value": 13}, "value": 57}, "labelAlign": {"condition": {"test": "datum.value == 1.5", "value": "center"}, "value": "right"}, "labelFontSize": {"condition": {"test": "datum.value == 1.5", "value": 44}, "value": 32}, "labelColor": {"condition": {"test": "datum.value == 1.5", "value": "#7f7f7f"}, "value": "#595959"}}},
       "y2": {"field": "hi"}}},
     {"data": {"name": "tb"}, "transform": [{"filter": {"field": "p", "oneOf": ["Q3 2025","Q4 2025","Q1 2026","Q2 2026","Q3 2026"]}}, {"bin": {"step": 0.15, "anchor": 0.125}, "field": "v", "as": "b"}, {"window": [{"op": "row_number", "as": "r"}], "groupby": ["p", "b"], "sort": [{"field": "v", "order": "ascending"}]}],
      "mark": {"type": "point", "shape": "circle", "filled": true, "fill": "#e07b39", "stroke": "#7b2d0f", "strokeWidth": 1.3, "size": 121, "opacity": 1},
      "encoding": {"x": {"field": "p", "type": "nominal"}, "xOffset": {"field": "r", "type": "ordinal", "scale": {"domain": [14,12,10,8,6,4,2,1,3,5,7,9,11,13,15], "range": [-29, 121]}}, "y": {"field": "v", "type": "quantitative"}}},
     {"data": {"name": "s"}, "transform": [{"filter": {"field": "k", "equal": "tb"}}, {"filter": {"field": "p", "oneOf": ["Q3 2025","Q4 2025","Q1 2026","Q2 2026","Q3 2026"]}}],
      "mark": {"type": "point", "shape": "diamond", "filled": true, "fill": "#ffffff", "stroke": "#000000", "strokeWidth": 4, "size": 1450, "opacity": 1},
      "encoding": {"x": {"field": "p", "type": "nominal"}, "y": {"field": "cbo", "type": "quantitative"}}}
   ]},
   {"width": 398, "height": 250, "resolve": {"scale": {"xOffset": "independent"}}, "layer": [
     {"data": {"name": "s"}, "transform": [{"filter": {"field": "k", "equal": "tb"}}, {"filter": {"field": "p", "oneOf": ["2026","2027"]}}],
      "mark": {"type": "bar", "fill": "#bdbdbd"},
      "encoding": {"x": {"field": "p", "type": "nominal", "scale": {"type": "band", "domain": ["2026","2027"], "paddingInner": 0.1, "paddingOuter": 0.142}, "axis": {"title": null}},
       "y": {"field": "lo", "type": "quantitative", "scale": {"domain": [1, 5], "nice": false, "zero": false}, "axis": null},
       "y2": {"field": "hi"}}},
     {"data": {"name": "tb"}, "transform": [{"filter": {"field": "p", "oneOf": ["2026","2027"]}}, {"bin": {"step": 0.3, "anchor": 0.125}, "field": "v", "as": "b"}, {"window": [{"op": "row_number", "as": "r"}], "groupby": ["p", "b"], "sort": [{"field": "v", "order": "ascending"}]}],
      "mark": {"type": "point", "shape": "circle", "filled": true, "fill": "#e07b39", "stroke": "#7b2d0f", "strokeWidth": 1.3, "size": 121, "opacity": 1},
      "encoding": {"x": {"field": "p", "type": "nominal"}, "xOffset": {"field": "r", "type": "ordinal", "scale": {"domain": [14,12,10,8,6,4,2,1,3,5,7,9,11,13,15], "range": [-23, 187]}}, "y": {"field": "v", "type": "quantitative", "axis": null}}},
     {"data": {"name": "s"}, "transform": [{"filter": {"field": "k", "equal": "tb"}}, {"filter": {"field": "p", "oneOf": ["2026","2027"]}}],
      "mark": {"type": "point", "shape": "diamond", "filled": true, "fill": "#ffffff", "stroke": "#000000", "strokeWidth": 4, "size": 1450, "opacity": 1},
      "encoding": {"x": {"field": "p", "type": "nominal"}, "y": {"field": "cbo", "type": "quantitative", "axis": null}}}
   ]}
  ]},
 {"title": {"text": "Interest rate on 10-year Treasury notes", "anchor": "middle", "offset": -13, "dx": 33},
  "spacing": 0,
  "hconcat": [
   {"width": 535, "height": 250, "resolve": {"scale": {"xOffset": "independent"}}, "layer": [
     {"data": {"name": "s"}, "transform": [{"filter": {"field": "k", "equal": "tn"}}, {"filter": {"field": "p", "oneOf": ["Q3 2025","Q4 2025","Q1 2026","Q2 2026","Q3 2026"]}}],
      "mark": {"type": "bar", "fill": "#bdbdbd"},
      "encoding": {"x": {"field": "p", "type": "nominal", "scale": {"type": "band", "domain": ["Q3 2025","Q4 2025","Q1 2026","Q2 2026","Q3 2026"], "paddingInner": 0.1, "paddingOuter": 0.156}, "axis": {"title": null, "labelExpr": "split(datum.label, ' ')"}},
       "y": {"field": "lo", "type": "quantitative", "scale": {"domain": [2, 5], "nice": false, "zero": false}, "axis": {"title": null, "values": [2, 2.5, 3, 4, 5], "labelExpr": "datum.value == 2 ? '0' : datum.value == 2.5 ? '//' : '' + datum.value", "tickColor": {"condition": {"test": "datum.value < 2.9", "value": "transparent"}, "value": "#7f7f7f"}, "labelPadding": {"condition": {"test": "datum.value == 2.5", "value": 13}, "value": 57}, "labelAlign": {"condition": {"test": "datum.value == 2.5", "value": "center"}, "value": "right"}, "labelFontSize": {"condition": {"test": "datum.value == 2.5", "value": 44}, "value": 32}, "labelColor": {"condition": {"test": "datum.value == 2.5", "value": "#7f7f7f"}, "value": "#595959"}}},
       "y2": {"field": "hi"}}},
     {"data": {"name": "tn"}, "transform": [{"filter": {"field": "p", "oneOf": ["Q3 2025","Q4 2025","Q1 2026","Q2 2026","Q3 2026"]}}, {"bin": {"step": 0.1, "anchor": 0.025}, "field": "v", "as": "b"}, {"window": [{"op": "row_number", "as": "r"}], "groupby": ["p", "b"], "sort": [{"field": "v", "order": "ascending"}]}],
      "mark": {"type": "point", "shape": "circle", "filled": true, "fill": "#e07b39", "stroke": "#7b2d0f", "strokeWidth": 1.3, "size": 121, "opacity": 1},
      "encoding": {"x": {"field": "p", "type": "nominal"}, "xOffset": {"field": "r", "type": "ordinal", "scale": {"domain": [14,12,10,8,6,4,2,1,3,5,7,9,11,13,15], "range": [-29, 121]}}, "y": {"field": "v", "type": "quantitative"}}},
     {"data": {"name": "s"}, "transform": [{"filter": {"field": "k", "equal": "tn"}}, {"filter": {"field": "p", "oneOf": ["Q3 2025","Q4 2025","Q1 2026","Q2 2026","Q3 2026"]}}],
      "mark": {"type": "point", "shape": "diamond", "filled": true, "fill": "#ffffff", "stroke": "#000000", "strokeWidth": 4, "size": 1450, "opacity": 1},
      "encoding": {"x": {"field": "p", "type": "nominal"}, "y": {"field": "cbo", "type": "quantitative"}}}
   ]},
   {"width": 398, "height": 250, "resolve": {"scale": {"xOffset": "independent"}}, "layer": [
     {"data": {"name": "s"}, "transform": [{"filter": {"field": "k", "equal": "tn"}}, {"filter": {"field": "p", "oneOf": ["2026","2027"]}}],
      "mark": {"type": "bar", "fill": "#bdbdbd"},
      "encoding": {"x": {"field": "p", "type": "nominal", "scale": {"type": "band", "domain": ["2026","2027"], "paddingInner": 0.1, "paddingOuter": 0.142}, "axis": {"title": null}},
       "y": {"field": "lo", "type": "quantitative", "scale": {"domain": [2, 5], "nice": false, "zero": false}, "axis": null},
       "y2": {"field": "hi"}}},
     {"data": {"name": "tn"}, "transform": [{"filter": {"field": "p", "oneOf": ["2026","2027"]}}, {"bin": {"step": 0.2, "anchor": 0.025}, "field": "v", "as": "b"}, {"window": [{"op": "row_number", "as": "r"}], "groupby": ["p", "b"], "sort": [{"field": "v", "order": "ascending"}]}],
      "mark": {"type": "point", "shape": "circle", "filled": true, "fill": "#e07b39", "stroke": "#7b2d0f", "strokeWidth": 1.3, "size": 121, "opacity": 1},
      "encoding": {"x": {"field": "p", "type": "nominal"}, "xOffset": {"field": "r", "type": "ordinal", "scale": {"domain": [14,12,10,8,6,4,2,1,3,5,7,9,11,13,15], "range": [-23, 187]}}, "y": {"field": "v", "type": "quantitative", "axis": null}}},
     {"data": {"name": "s"}, "transform": [{"filter": {"field": "k", "equal": "tn"}}, {"filter": {"field": "p", "oneOf": ["2026","2027"]}}],
      "mark": {"type": "point", "shape": "diamond", "filled": true, "fill": "#ffffff", "stroke": "#000000", "strokeWidth": 4, "size": 1450, "opacity": 1},
      "encoding": {"x": {"field": "p", "type": "nominal"}, "y": {"field": "cbo", "type": "quantitative", "axis": null}}}
   ]}
  ]}
], "spacing": 84.4}
],
"config": {
 "font": "Roboto",
 "view": {"stroke": null},
 "axis": {"labelFont": "Roboto", "labelFontSize": 32, "labelColor": "#595959", "domainColor": "#7f7f7f", "domainWidth": 2, "tickColor": "#7f7f7f", "tickWidth": 2, "tickSize": -13, "labelPadding": 57, "grid": false, "labelOverlap": false, "labelFlush": false},
 "axisX": {"labelAngle": 0, "labelLineHeight": 41},
 "axisY": {"minExtent": 80},
 "legend": {"orient": "none", "legendX": 634, "legendY": 906, "direction": "horizontal", "symbolSize": 1000, "symbolStrokeWidth": 2, "labelFont": "Roboto", "labelFontSize": 32, "labelColor": "#000000", "labelOffset": 14, "columnPadding": 46, "labelLimit": 1000, "padding": 0},
 "title": {"font": "Roboto", "fontSize": 32, "fontWeight": "bold", "color": "#000000"}
}
}
